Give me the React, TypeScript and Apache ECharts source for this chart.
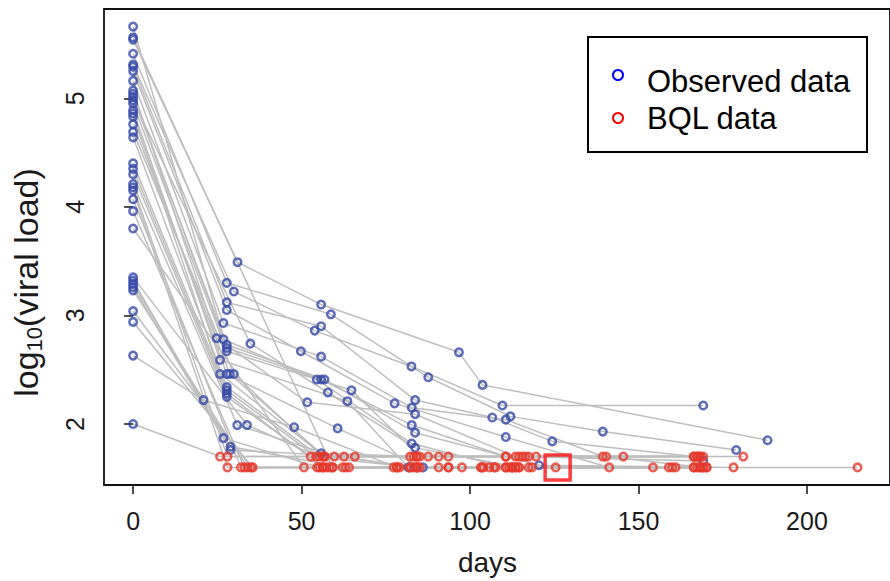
import React, { useEffect, useRef } from "react";
import * as echarts from "echarts";

// Axis ticks
const dayTicks = [0, 50, 100, 150, 200];
const vlTicks = [2, 3, 4, 5];
const dayRange = [-8.64, 224.64];
const vlRange = [1.438, 5.822];

// Each subject: visits as [day, log10(viral load), BQL flag (1 = below quantification limit)]
const subjects: number[][][] = [
  [[0, 5.66, 0], [27.8, 2.70, 0], [55.8, 2.41, 0], [82.7, 1.99, 0], [110.6, 1.7, 1], [168.3, 1.7, 1]],
  [[0, 5.56, 0], [59.2, 1.6, 1], [84.2, 1.6, 1], [112.5, 1.6, 1], [168.3, 1.6, 1]],
  [[0, 5.54, 0], [31, 3.49, 0], [55.8, 3.10, 0], [96.7, 2.66, 0], [103.7, 2.36, 0], [188.3, 1.85, 0]],
  [[0, 5.41, 0], [27.8, 3.30, 0], [58.7, 3.01, 0], [87.6, 2.43, 0], [112, 2.07, 0], [139.4, 1.93, 0], [179, 1.76, 0]],
  [[0, 5.31, 0], [29.9, 3.22, 0], [53.9, 2.86, 0], [82.6, 2.53, 0], [109.6, 2.17, 0], [169.2, 2.17, 0]],
  [[0, 5.29, 0], [27.8, 3.12, 0], [55.8, 2.90, 0], [83.7, 2.22, 0], [106.6, 2.06, 0], [124.4, 1.84, 0], [166.4, 1.7, 1]],
  [[0, 5.25, 0], [27.8, 3.05, 0], [49.8, 2.67, 0], [77.6, 2.19, 0], [110.6, 1.88, 0], [141.3, 1.6, 1], [170.2, 1.6, 1]],
  [[0, 5.16, 0], [26.8, 2.93, 0], [55.8, 2.62, 0], [82.7, 2.15, 0], [110.6, 2.04, 0], [139.4, 1.7, 1], [167.4, 1.7, 1]],
  [[0, 5.07, 0], [24.8, 2.79, 0], [51.7, 2.20, 0], [83.7, 2.09, 0], [113.5, 1.7, 1], [169.2, 1.66, 0]],
  [[0, 5.04, 0], [26.8, 2.78, 0], [54.5, 2.41, 0], [82.7, 1.82, 0], [110.6, 1.6, 1], [166.4, 1.6, 1]],
  [[0, 5.01, 0], [27.8, 2.73, 0], [56.8, 2.41, 0], [83.7, 1.92, 0], [120.5, 1.62, 0], [178.2, 1.6, 1], [215, 1.6, 1]],
  [[0, 4.98, 0], [34.8, 2.74, 0], [57.8, 2.29, 0], [83.7, 1.78, 0], [114.5, 1.6, 1], [167.4, 1.6, 1]],
  [[0, 4.95, 0], [27.8, 2.67, 0], [64.8, 2.31, 0], [85.1, 1.7, 1], [116.4, 1.7, 1], [168.3, 1.7, 1]],
  [[0, 4.89, 0], [25.8, 2.59, 0], [63.6, 2.21, 0], [81.7, 1.6, 0], [113.5, 1.6, 1], [160, 1.6, 1]],
  [[0, 4.86, 0], [25.8, 2.46, 0], [56.8, 1.7, 1], [82.2, 1.7, 1], [110.6, 1.7, 1], [140.4, 1.7, 1], [169.2, 1.6, 1]],
  [[0, 4.83, 0], [27.8, 2.46, 0], [60.7, 1.96, 0], [86, 1.6, 0], [117.4, 1.6, 1], [161, 1.6, 1]],
  [[0, 4.76, 0], [28.7, 2.46, 0], [55.8, 1.73, 0], [84.2, 1.7, 1], [115.5, 1.7, 1], [181.1, 1.7, 1]],
  [[0, 4.69, 0], [29.9, 2.46, 0], [56.3, 1.7, 1], [83.2, 1.7, 1], [114.5, 1.7, 1], [166.4, 1.7, 1]],
  [[0, 4.64, 0], [27.8, 2.34, 0], [55.3, 1.7, 1], [87.6, 1.7, 1], [117.4, 1.7, 1], [167.4, 1.7, 1]],
  [[0, 4.40, 0], [27.8, 2.31, 0], [54.3, 1.7, 1], [90.7, 1.7, 1], [119.6, 1.7, 1], [145.5, 1.7, 1]],
  [[0, 4.35, 0], [27.8, 2.28, 0], [56.3, 1.6, 1], [93.6, 1.6, 1], [125.4, 1.6, 1], [154.3, 1.6, 1]],
  [[0, 4.30, 0], [27.8, 2.25, 0], [52.7, 1.7, 1], [84.2, 1.6, 1], [111.6, 1.6, 1], [159, 1.6, 1]],
  [[0, 4.21, 0], [30.9, 1.99, 0], [59.7, 1.7, 1], [85.1, 1.6, 1], [118.4, 1.6, 1], [169.2, 1.6, 1]],
  [[0, 4.18, 0], [28, 1.7, 1], [62.6, 1.7, 1], [82.2, 1.6, 1], [107.6, 1.6, 1], [168.3, 1.6, 1]],
  [[0, 4.15, 0], [28, 1.6, 1], [54.6, 1.6, 1], [78.3, 1.6, 1], [105.7, 1.6, 1], [170.2, 1.6, 1]],
  [[0, 4.07, 0], [32, 1.6, 1], [57.3, 1.6, 1], [79.1, 1.6, 1], [103.5, 1.6, 1]],
  [[0, 3.96, 0], [33, 1.6, 1], [58.3, 1.6, 1], [90.7, 1.6, 1], [112.5, 1.6, 1]],
  [[0, 3.80, 0], [50.7, 1.6, 1], [77.3, 1.6, 1], [103.2, 1.6, 1]],
  [[0, 3.35, 0], [33.8, 1.99, 0], [62.2, 1.6, 1], [97.6, 1.6, 1], [114.5, 1.6, 1]],
  [[0, 3.32, 0], [26.8, 1.87, 0], [55.3, 1.6, 1], [83.2, 1.6, 1], [110.6, 1.6, 1]],
  [[0, 3.29, 0], [28.9, 1.79, 0], [63.1, 1.6, 1], [84.2, 1.6, 1], [113.5, 1.6, 1]],
  [[0, 3.26, 0], [28.9, 1.76, 0], [65.8, 1.7, 1], [93.6, 1.7, 1], [169.2, 1.7, 1]],
  [[0, 3.23, 0], [34, 1.6, 1], [64.1, 1.6, 1], [107.1, 1.6, 1], [166.4, 1.6, 1]],
  [[0, 3.04, 0], [35, 1.6, 1], [56.3, 1.6, 1], [82.2, 1.6, 1], [112.5, 1.6, 1]],
  [[0, 2.94, 0], [35.5, 1.6, 1], [59.2, 1.6, 1], [93.6, 1.6, 1]],
  [[0, 2.63, 0], [20.9, 2.22, 0], [47.8, 1.97, 0], [78.3, 1.6, 1], [104, 1.6, 1]],
  [[0, 2.00, 0], [25.8, 1.7, 1], [56.8, 1.7, 1], [84.2, 1.7, 1]],
];

// Highlighted BQL observation (red square)
const highlightedPoint = [126, 1.6];

const legendNames = ["Observed data", "BQL data"];

export default function App() {
  const ref = useRef<HTMLDivElement>(null);

  useEffect(() => {
    if (!ref.current) return;
    const chart = echarts.init(ref.current, null, { renderer: "svg" });
    const font = "'Liberation Sans', Arial, Helvetica, sans-serif";

    const lineSeries = subjects.map((s, i) => ({
      type: "line",
      name: "subject " + (i + 1),
      data: s.map((p) => [p[0], p[1]]),
      symbol: "none",
      showSymbol: false,
      silent: true,
      z: 1,
      lineStyle: { color: "#bebebe", width: 1.5 },
    }));

    const observed = subjects.flatMap((s) => s.filter((p) => !p[2]).map((p) => [p[0], p[1]]));
    const bql = subjects.flatMap((s) => s.filter((p) => p[2]).map((p) => [p[0], p[1]]));

    const option: any = {
      animation: false,
      backgroundColor: "#ffffff",
      grid: {
        left: 104,
        top: 9,
        width: 795,
        height: 476,
        show: true,
        borderColor: "#111111",
        borderWidth: 1.8,
        backgroundColor: "transparent",
      },
      xAxis: {
        type: "value",
        min: dayRange[0],
        max: dayRange[1],
        axisLine: { show: false },
        splitLine: { show: false },
        axisTick: { show: true, length: 9, lineStyle: { color: "#111", width: 1.5 }, customValues: dayTicks },
        axisLabel: { customValues: dayTicks, margin: 23, fontSize: 25, color: "#1a1a1a", fontFamily: font },
        name: "days",
        nameLocation: "middle",
        nameGap: 63,
        nameTextStyle: { fontSize: 28, color: "#1a1a1a", fontFamily: font, padding: [0, 19, 0, 0] },
      },
      yAxis: {
        type: "value",
        min: vlRange[0],
        max: vlRange[1],
        axisLine: { show: false },
        splitLine: { show: false },
        axisTick: { show: true, length: 9, lineStyle: { color: "#111", width: 1.5 }, customValues: vlTicks },
        axisLabel: { customValues: vlTicks, rotate: 90, margin: 17, fontSize: 25, color: "#1a1a1a", fontFamily: font },
        name: "{a|log}{s|10}{a|(viral load)}",
        nameLocation: "middle",
        nameRotate: 90,
        nameGap: 59,
        nameTextStyle: {
          fontSize: 34,
          color: "#1a1a1a",
          fontFamily: font,
          padding: [0, 71, 0, 0],
          rich: {
            a: { fontSize: 34, fontFamily: font, color: "#1a1a1a", lineHeight: 38 },
            s: { fontSize: 22, fontFamily: font, color: "#1a1a1a", lineHeight: 29, verticalAlign: "bottom" },
          },
        },
      },
      series: [
        ...lineSeries,
        {
          type: "scatter",
          name: legendNames[0],
          data: observed,
          symbol: "circle",
          symbolSize: 7.5,
          z: 3,
          itemStyle: { color: "rgba(0,0,0,0)", borderColor: "#3548a8", borderWidth: 2.5 },
        },
        {
          type: "scatter",
          name: legendNames[1],
          data: bql,
          symbol: "circle",
          symbolSize: 7.5,
          z: 4,
          itemStyle: { color: "rgba(0,0,0,0)", borderColor: "#e6382b", borderWidth: 2.5 },
        },
        {
          type: "scatter",
          name: "highlight",
          data: [highlightedPoint],
          symbol: "rect",
          symbolSize: 25,
          z: 5,
          silent: true,
          itemStyle: { color: "rgba(0,0,0,0)", borderColor: "#ff0f0f", borderWidth: 3.5 },
        },
      ],
      graphic: [
        {
          type: "rect",
          z: 100,
          shape: { x: 588, y: 37, width: 279, height: 115 },
          style: { fill: "#ffffff", stroke: "#000000", lineWidth: 2 },
        },
        {
          type: "circle",
          z: 101,
          shape: { cx: 618, cy: 75, r: 5 },
          style: { fill: "none", stroke: "#0000ff", lineWidth: 2 },
        },
        {
          type: "circle",
          z: 101,
          shape: { cx: 618, cy: 118, r: 5 },
          style: { fill: "none", stroke: "#ff0000", lineWidth: 2 },
        },
        {
          type: "text",
          z: 101,
          x: 647,
          y: 81,
          style: { text: legendNames[0], fontSize: 31, fontFamily: font, fill: "#000", align: "left", verticalAlign: "middle" },
        },
        {
          type: "text",
          z: 101,
          x: 647,
          y: 118.5,
          style: { text: legendNames[1], fontSize: 31, fontFamily: font, fill: "#000", align: "left", verticalAlign: "middle" },
        },
      ],
    };

    chart.setOption(option);
    return () => chart.dispose();
  }, []);

  return <div ref={ref} style={{ position: "fixed", left: 0, top: 0, width: 890, height: 581 }} />;
}
